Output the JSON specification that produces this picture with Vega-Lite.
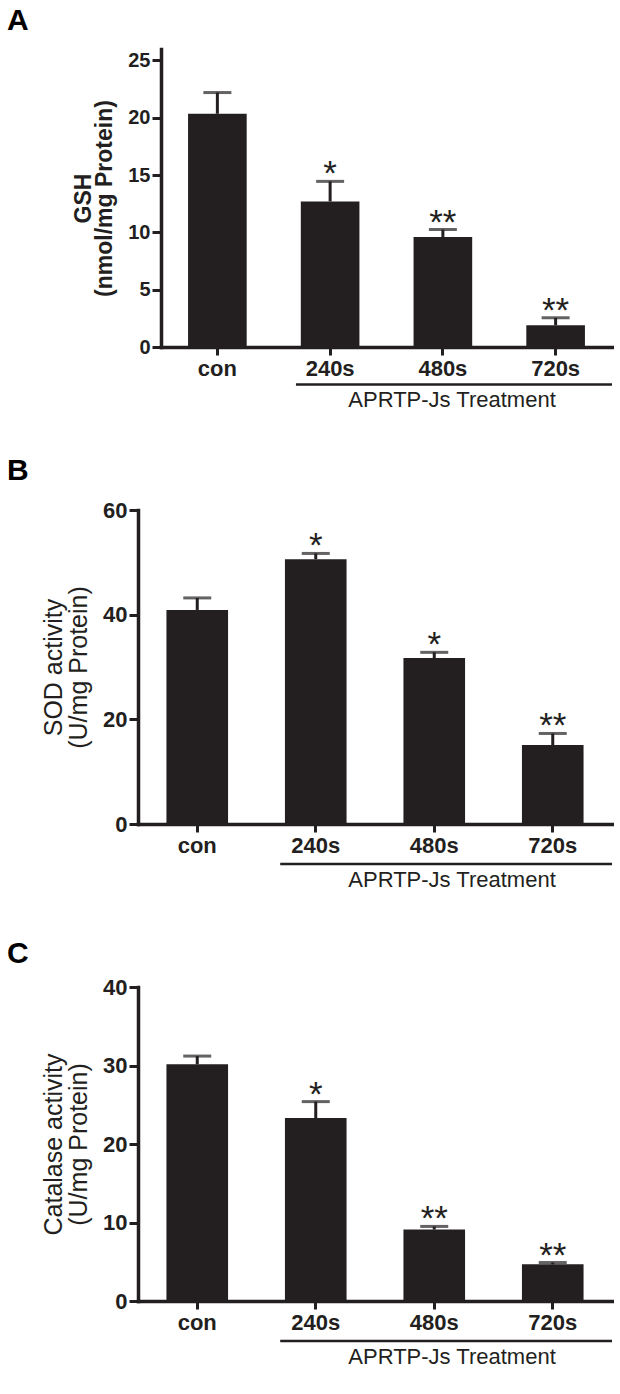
{
  "$schema": "https://vega.github.io/schema/vega-lite/v6.json",
  "padding": {"left": 7, "top": 6, "right": 0, "bottom": 0},
  "background": "white",
  "bounds": "flush",
  "spacing": 163,
  "config": {
    "view": {"stroke": null},
    "font": "Liberation Sans",
    "axis": {"grid": false, "domainColor": "#231f20", "tickColor": "#231f20", "labelColor": "#231f20", "titleColor": "#231f20", "domainWidth": 3.5, "tickWidth": 3, "domainCap": "square"},
    "title": {"anchor": "start", "frame": "group", "fontSize": 30, "fontWeight": "bold", "color": "#000000"}
  },
  "vconcat": [
    {
      "width": 474,
      "height": 298,
      "title": {"text": "A", "dx": -131, "offset": 13},
      "resolve": {"scale": {"x": "independent"}},
      "layer": [
        {
          "data": {"values": [
            {"group": "con", "mean": 20.35, "upper": 22.2, "sig": ""},
            {"group": "240s", "mean": 12.7, "upper": 14.45, "sig": "*"},
            {"group": "480s", "mean": 9.6, "upper": 10.25, "sig": "**"},
            {"group": "720s", "mean": 1.9, "upper": 2.55, "sig": "**"}
          ]},
          "encoding": {
            "x": {"field": "group", "type": "nominal", "sort": null, "scale": {"type": "band", "range": [23, 474], "paddingInner": 0.48, "paddingOuter": 0.24},
              "axis": {"title": null, "labelAngle": 0, "labelFontSize": 22, "labelFontWeight": "bold", "tickSize": 8, "labelPadding": 3}}
          },
          "layer": [
            {
              "mark": {"type": "bar", "color": "#231f20"},
              "encoding": {
                "y": {"field": "mean", "type": "quantitative", "scale": {"domain": [0, 25]},
                  "axis": {"offset": -23, "values": [0, 5, 10, 15, 20, 25], "tickSize": 9, "labelPadding": 2, "labelFontSize": 20, "labelFontWeight": "bold",
                    "title": ["GSH", "(nmol/mg Protein)"], "titleFontSize": 23, "titleFontWeight": "bold", "titleLineHeight": 21, "titlePadding": 11}}
              }
            },
            {
              "mark": {"type": "rule", "color": "#231f20", "strokeWidth": 3},
              "encoding": {"y": {"field": "mean", "type": "quantitative"}, "y2": {"field": "upper"}}
            },
            {
              "mark": {"type": "tick", "color": "#231f20", "thickness": 3, "size": 28, "orient": "horizontal"},
              "encoding": {"y": {"field": "upper", "type": "quantitative"}}
            },
            {
              "mark": {"type": "text", "fontSize": 35, "baseline": "alphabetic", "dy": 4, "color": "#231f20"},
              "encoding": {"y": {"field": "upper", "type": "quantitative"}, "text": {"field": "sig"}}
            }
          ]
        },
        {
          "data": {"values": [{"label": "APRTP-Js Treatment"}]},
          "layer": [
            {
              "mark": {"type": "rule", "color": "#231f20", "strokeWidth": 2.5, "clip": false},
              "encoding": {
                "x": {"datum": 1.333, "type": "quantitative", "scale": {"domain": [0, 4]}, "axis": null},
                "x2": {"datum": 4},
                "y": {"datum": -3.27, "type": "quantitative"}
              }
            },
            {
              "mark": {"type": "text", "fontSize": 22, "baseline": "middle", "color": "#231f20", "clip": false},
              "encoding": {
                "x": {"datum": 2.65, "type": "quantitative", "scale": {"domain": [0, 4]}, "axis": null},
                "y": {"datum": -4.61, "type": "quantitative"},
                "text": {"field": "label"}
              }
            }
          ]
        }
      ]
    },
    {
      "width": 474,
      "height": 314,
      "title": {"text": "B", "dx": -131, "offset": 13},
      "resolve": {"scale": {"x": "independent"}},
      "layer": [
        {
          "data": {"values": [
            {"group": "con", "mean": 40.9, "upper": 43.2, "sig": ""},
            {"group": "240s", "mean": 50.6, "upper": 51.7, "sig": "*"},
            {"group": "480s", "mean": 31.7, "upper": 32.8, "sig": "*"},
            {"group": "720s", "mean": 15.1, "upper": 17.3, "sig": "**"}
          ]},
          "encoding": {
            "x": {"field": "group", "type": "nominal", "sort": null, "scale": {"type": "band", "paddingInner": 0.48, "paddingOuter": 0.24},
              "axis": {"title": null, "labelAngle": 0, "labelFontSize": 22, "labelFontWeight": "bold", "tickSize": 8, "labelPadding": 3}}
          },
          "layer": [
            {
              "mark": {"type": "bar", "color": "#231f20"},
              "encoding": {
                "y": {"field": "mean", "type": "quantitative", "scale": {"domain": [0, 60]},
                  "axis": {"values": [0, 20, 40, 60], "tickSize": 9, "labelPadding": 2, "labelFontSize": 22, "labelFontWeight": "bold",
                    "title": ["SOD activity", "(U/mg Protein)"], "titleFontSize": 25, "titleFontWeight": "normal", "titleLineHeight": 25, "titlePadding": 11}}
              }
            },
            {
              "mark": {"type": "rule", "color": "#231f20", "strokeWidth": 3},
              "encoding": {"y": {"field": "mean", "type": "quantitative"}, "y2": {"field": "upper"}}
            },
            {
              "mark": {"type": "tick", "color": "#231f20", "thickness": 3, "size": 28, "orient": "horizontal"},
              "encoding": {"y": {"field": "upper", "type": "quantitative"}}
            },
            {
              "mark": {"type": "text", "fontSize": 35, "baseline": "alphabetic", "dy": 4, "color": "#231f20"},
              "encoding": {"y": {"field": "upper", "type": "quantitative"}, "text": {"field": "sig"}}
            }
          ]
        },
        {
          "data": {"values": [{"label": "APRTP-Js Treatment"}]},
          "layer": [
            {
              "mark": {"type": "rule", "color": "#231f20", "strokeWidth": 2.5, "clip": false},
              "encoding": {
                "x": {"datum": 1.2, "type": "quantitative", "scale": {"domain": [0, 4]}, "axis": null},
                "x2": {"datum": 4},
                "y": {"datum": -7.64, "type": "quantitative"}
              }
            },
            {
              "mark": {"type": "text", "fontSize": 22, "baseline": "middle", "color": "#231f20", "clip": false},
              "encoding": {
                "x": {"datum": 2.65, "type": "quantitative", "scale": {"domain": [0, 4]}, "axis": null},
                "y": {"datum": -10.7, "type": "quantitative"},
                "text": {"field": "label"}
              }
            }
          ]
        }
      ]
    },
    {
      "width": 474,
      "height": 314,
      "title": {"text": "C", "dx": -131, "offset": 7},
      "resolve": {"scale": {"x": "independent"}},
      "layer": [
        {
          "data": {"values": [
            {"group": "con", "mean": 30.15, "upper": 31.2, "sig": ""},
            {"group": "240s", "mean": 23.3, "upper": 25.4, "sig": "*"},
            {"group": "480s", "mean": 9.1, "upper": 9.5, "sig": "**"},
            {"group": "720s", "mean": 4.67, "upper": 4.9, "sig": "**"}
          ]},
          "encoding": {
            "x": {"field": "group", "type": "nominal", "sort": null, "scale": {"type": "band", "paddingInner": 0.48, "paddingOuter": 0.24},
              "axis": {"title": null, "labelAngle": 0, "labelFontSize": 22, "labelFontWeight": "bold", "tickSize": 8, "labelPadding": 3}}
          },
          "layer": [
            {
              "mark": {"type": "bar", "color": "#231f20"},
              "encoding": {
                "y": {"field": "mean", "type": "quantitative", "scale": {"domain": [0, 40]},
                  "axis": {"values": [0, 10, 20, 30, 40], "tickSize": 9, "labelPadding": 2, "labelFontSize": 22, "labelFontWeight": "bold",
                    "title": ["Catalase activity", "(U/mg Protein)"], "titleFontSize": 25, "titleFontWeight": "normal", "titleLineHeight": 25, "titlePadding": 11}}
              }
            },
            {
              "mark": {"type": "rule", "color": "#231f20", "strokeWidth": 3},
              "encoding": {"y": {"field": "mean", "type": "quantitative"}, "y2": {"field": "upper"}}
            },
            {
              "mark": {"type": "tick", "color": "#231f20", "thickness": 3, "size": 28, "orient": "horizontal"},
              "encoding": {"y": {"field": "upper", "type": "quantitative"}}
            },
            {
              "mark": {"type": "text", "fontSize": 35, "baseline": "alphabetic", "dy": 4, "color": "#231f20"},
              "encoding": {"y": {"field": "upper", "type": "quantitative"}, "text": {"field": "sig"}}
            }
          ]
        },
        {
          "data": {"values": [{"label": "APRTP-Js Treatment"}]},
          "layer": [
            {
              "mark": {"type": "rule", "color": "#231f20", "strokeWidth": 2.5, "clip": false},
              "encoding": {
                "x": {"datum": 1.2, "type": "quantitative", "scale": {"domain": [0, 4]}, "axis": null},
                "x2": {"datum": 4},
                "y": {"datum": -5.1, "type": "quantitative"}
              }
            },
            {
              "mark": {"type": "text", "fontSize": 22, "baseline": "middle", "color": "#231f20", "clip": false},
              "encoding": {
                "x": {"datum": 2.65, "type": "quantitative", "scale": {"domain": [0, 4]}, "axis": null},
                "y": {"datum": -7.13, "type": "quantitative"},
                "text": {"field": "label"}
              }
            }
          ]
        }
      ]
    }
  ]
}
